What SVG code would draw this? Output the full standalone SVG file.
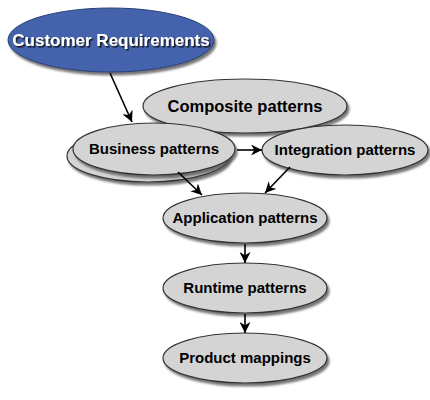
<svg xmlns="http://www.w3.org/2000/svg" width="430" height="400" viewBox="0 0 430 400">
<defs>
<filter id="sh" x="-10%" y="-20%" width="125%" height="150%">
<feDropShadow dx="2" dy="3" stdDeviation="1.2" flood-color="#555" flood-opacity="0.8"/>
</filter>
<filter id="tsh" x="-10%" y="-30%" width="120%" height="170%">
<feDropShadow dx="1.5" dy="1.5" stdDeviation="0.6" flood-color="#111" flood-opacity="0.9"/>
</filter>
<marker id="ah" viewBox="0 0 10 10" refX="10" refY="5" markerWidth="11" markerHeight="11" markerUnits="userSpaceOnUse" orient="auto">
<path d="M0,0 L10,5 L0,10 L3,5 Z" fill="#000"/>
</marker>
</defs>
<style>
.g{fill:#d4d4d4;stroke:#333;stroke-width:1.2}
.b{fill:#4464ac;stroke:#2a3f78;stroke-width:1}
.t{font-family:"Liberation Sans",Arial,sans-serif;font-weight:bold;font-size:15px;fill:#000;text-anchor:middle}
.w{font-family:"Liberation Sans",Arial,sans-serif;font-weight:bold;font-size:17px;fill:#fff;text-anchor:middle}
.c{stroke:#000;stroke-width:1.6;fill:none;marker-end:url(#ah)}
</style>
<rect width="430" height="400" fill="#fff"/>
<g id="customer">
<ellipse class="b" cx="111" cy="40" rx="103" ry="32" filter="url(#sh)"/>
<text class="w" x="111" y="46" filter="url(#tsh)">Customer Requirements</text>
</g>
<g id="composite">
<ellipse class="g" cx="245" cy="106" rx="102" ry="27" filter="url(#sh)"/>
<text class="t" x="245" y="112" style="font-size:16.5px">Composite patterns</text>
</g>
<g id="business">
<ellipse class="g" cx="148" cy="156" rx="81" ry="26" filter="url(#sh)"/>
<ellipse class="g" cx="154" cy="149" rx="81" ry="26" filter="url(#sh)"/>
<text class="t" x="154" y="154">Business patterns</text>
</g>
<g id="integration">
<ellipse class="g" cx="345" cy="150" rx="83" ry="25" filter="url(#sh)"/>
<text class="t" x="345" y="155">Integration patterns</text>
</g>
<g id="application">
<ellipse class="g" cx="245" cy="218" rx="82" ry="25" filter="url(#sh)"/>
<text class="t" x="245" y="223">Application patterns</text>
</g>
<g id="runtime">
<ellipse class="g" cx="245" cy="288" rx="82" ry="25" filter="url(#sh)"/>
<text class="t" x="245" y="293">Runtime patterns</text>
</g>
<g id="product">
<ellipse class="g" cx="245" cy="358" rx="82" ry="25" filter="url(#sh)"/>
<text class="t" x="245" y="363">Product mappings</text>
</g>
<g id="connectors">
<line class="c" x1="110" y1="73" x2="132" y2="122"/>
<line class="c" x1="237" y1="150" x2="262" y2="150"/>
<line class="c" x1="178" y1="172" x2="202" y2="195"/>
<line class="c" x1="290" y1="167" x2="265" y2="193"/>
<line class="c" x1="245" y1="244" x2="245" y2="263"/>
<line class="c" x1="245" y1="314" x2="245" y2="333"/>
</g>
</svg>
